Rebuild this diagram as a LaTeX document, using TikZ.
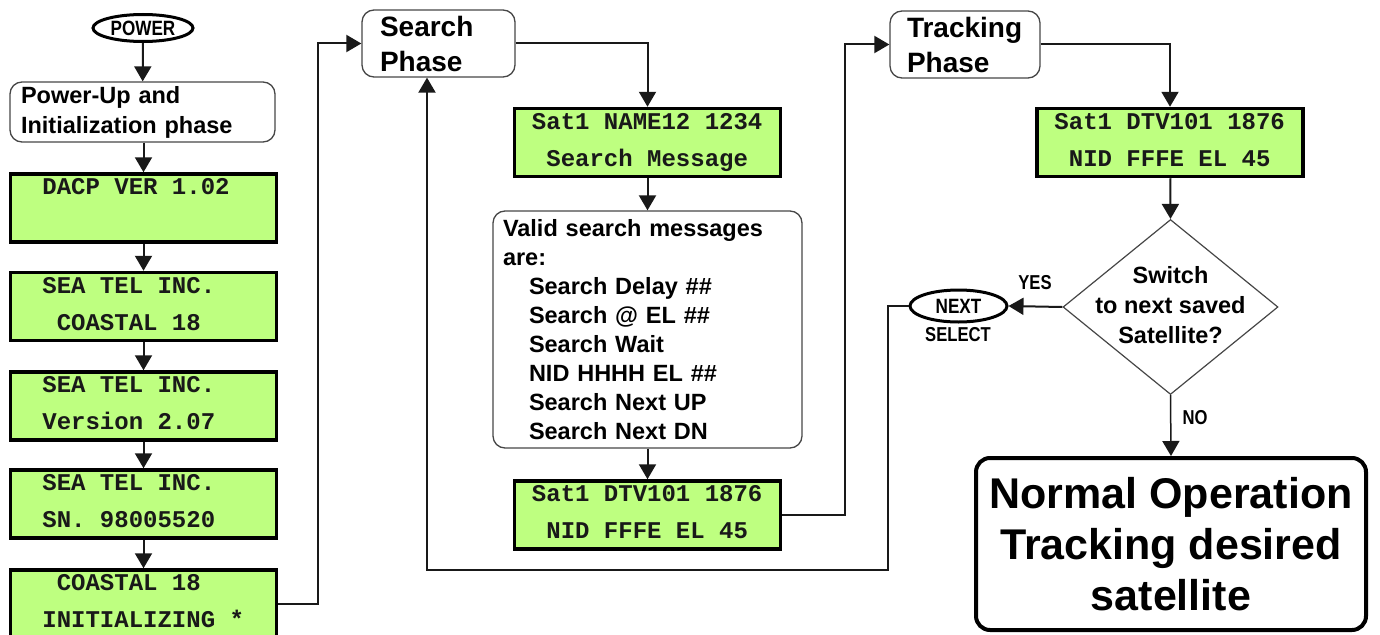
\documentclass[tikz,border=0pt]{standalone}
\usepackage{fontspec}
\setmainfont{Liberation Sans}
\setmonofont{Liberation Mono}
\usetikzlibrary{shapes.geometric,arrows.meta,calc}
\definecolor{lcdgreen}{RGB}{190,255,128}
\definecolor{thin}{RGB}{70,70,70}
\frenchspacing
\newcommand\tallcaps[1]{\scalebox{0.95}[1.15]{#1}}
\tikzset{
  lcd/.style={draw=black, line width=3.5pt, fill=lcdgreen, minimum width=266pt, minimum height=68pt, inner sep=0pt},
  lcdtxt/.style={font=\ttfamily\bfseries\fontsize{24}{29}\selectfont, text=black!90, inner sep=0pt},
  phase/.style={draw=thin, line width=1.3pt, rounded corners=12pt, align=left, inner ysep=0pt},
  key/.style={draw=black, ellipse, line width=3pt, inner sep=0pt, font=\bfseries\fontsize{18}{20}\selectfont},
  lbl/.style={font=\bfseries\fontsize{17.5}{20}\selectfont, inner sep=0pt},
  conn/.style={draw=black!90, line width=2pt},
  arr/.style={conn, -{Triangle[width=17pt,length=15pt]}},
}
\newcommand\lcdbox[4]{%
  \node[lcd] (#1) at (#2) {};
  \node[lcdtxt, anchor=base west] (#1a) at ([xshift=19pt, yshift=-22.5pt]#1.north west) {#3};
  \node[lcdtxt, anchor=base west] (#1b) at ([xshift=19pt, yshift=-59.5pt]#1.north west) {#4};
}
\begin{document}
\begin{tikzpicture}[x=1pt,y=1pt]
\useasboundingbox (0,0) rectangle (1380,-634);
% left column
\node[key, minimum width=100pt, minimum height=27pt] (power) at (143,-28) {\tallcaps{POWER}};
\node[phase, minimum width=265pt, minimum height=60pt, inner xsep=11pt, text width=243pt,
  font=\bfseries\fontsize{23.5}{30}\selectfont] (pup) at (142.5,-112) {Power-Up and\\Initialization phase};
\lcdbox{d1}{143.5,-208}{~DACP VER 1.02}{}
\lcdbox{d2}{143.5,-306.5}{~SEA TEL INC.}{~~COASTAL 18}
\lcdbox{d3}{143.5,-406}{~SEA TEL INC.}{~Version 2.07}
\lcdbox{d4}{143.5,-504}{~SEA TEL INC.}{~SN. 98005520}
\lcdbox{d5}{143.5,-604}{~~COASTAL 18}{~INITIALIZING *}
% search column
\node[phase, minimum width=153pt, minimum height=67pt, inner xsep=18pt, text width=117pt,
  font=\bfseries\fontsize{28}{35}\selectfont] (search) at (438.5,-43.5) {Search\\Phase};
\lcdbox{s1}{647.5,-142.5}{Sat1 NAME12 1234}{~Search Message}
\node[phase, minimum width=309pt, minimum height=237pt, inner xsep=10pt, text width=289pt,
  font=\bfseries\fontsize{23.5}{29}\selectfont] (valid) at (647.5,-329.5)
  {Valid search messages\\are:\\
   \hspace*{26pt}Search Delay \#\#\\
   \hspace*{26pt}Search @ EL \#\#\\
   \hspace*{26pt}Search Wait\\
   \hspace*{26pt}NID HHHH EL \#\#\\
   \hspace*{26pt}Search Next UP\\
   \hspace*{26pt}Search Next DN};
\lcdbox{s2}{647.5,-515}{Sat1 DTV101 1876}{~NID FFFE EL 45}
% tracking column
\node[phase, minimum width=150pt, minimum height=67pt, inner xsep=17pt, text width=116pt,
  font=\bfseries\fontsize{28}{35}\selectfont] (track) at (965,-44.5) {Tracking\\Phase};
\lcdbox{t1}{1170,-142.5}{Sat1 DTV101 1876}{~NID FFFE EL 45}
\node[diamond, draw=thin, line width=1.2pt, minimum width=215pt, minimum height=175pt, inner sep=0pt] (dia) at (1170.5,-307) {};
\node[align=center, inner sep=0pt, font=\bfseries\fontsize{23.5}{30}\selectfont] (diat) at (1170.5,-305) {Switch\\to next saved\\Satellite?};
\node[key, minimum width=97pt, minimum height=32pt] (next) at (958.5,-306) {\tallcaps{NEXT}};
\node[lbl] (sel) at (958,-335) {\tallcaps{SELECT}};
\node[lbl] (yes) at (1035,-283) {\tallcaps{YES}};
\node[lbl] (no) at (1195,-418) {\tallcaps{NO}};
\node[draw=black, line width=4pt, rounded corners=14pt, minimum width=390pt, minimum height=172pt,
  align=center, inner sep=0pt, font=\bfseries\fontsize{43}{51}\selectfont] (normal) at (1171,-544)
  {Normal Operation\\Tracking desired\\satellite};
% connectors
\draw[arr] (power) -- (pup);
\draw[arr] (pup.south -| d1.north) -- (d1);
\draw[arr] (d1) -- (d2);
\draw[arr] (d2) -- (d3);
\draw[arr] (d3) -- (d4);
\draw[arr] (d4) -- (d5);
\coordinate (c1) at (318,-43.5);
\draw[arr] (d5.east) -| (c1) -- (search.west);
\draw[arr] (search.east) -| (s1.north);
\draw[arr] (s1) -- (valid);
\draw[arr] (valid) -- (s2);
\coordinate (c2) at (845,-44.5);
\draw[arr] (s2.east) -| (c2) -- (track.west);
\draw[arr] (track.east) -| (t1.north);
\draw[arr] (t1) -- (dia.north);
\draw[arr] (dia.west) -- (next.east);
\draw[arr, line width=1.5pt] (dia.south) -- (normal.north);
\coordinate (c3) at (888,-306);
\coordinate (c4) at (888,-570);
\coordinate (c5) at (427,-570);
\draw[arr] (next.west) -- (c3) -- (c4) -- (c5) -- (c5 |- search.south);
\end{tikzpicture}
\end{document}
